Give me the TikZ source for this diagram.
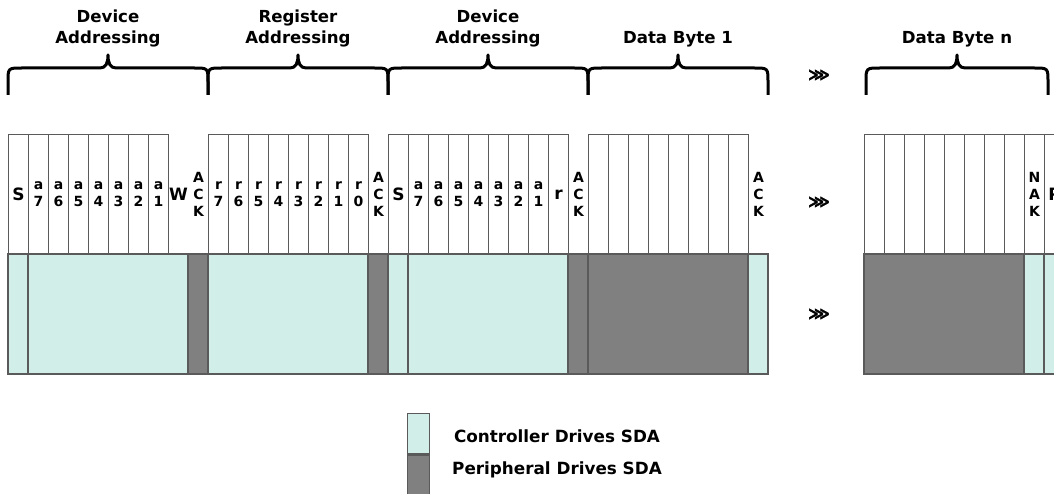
\documentclass[tikz,border=0pt]{standalone}
\usepackage{fontspec}
\setmainfont{DejaVu Sans}
\newfontfamily\chevfont[FakeBold=3]{DejaVu Sans Bold}
\usetikzlibrary{positioning}
\definecolor{ctrlteal}{RGB}{209,239,232}
\definecolor{periphgray}{RGB}{128,128,128}
\definecolor{cellline}{RGB}{90,90,90}
\tikzset{
  bit/.style={draw=cellline, line width=1pt, minimum width=20pt, minimum height=120pt,
    inner sep=0pt, anchor=north west, align=center, font=\bfseries\fontsize{14}{17}\selectfont},
  bitfree/.style={bit, draw=none},
  bigbit/.style={font=\bfseries\fontsize{17}{20}\selectfont},
  ctrl/.style={fill=ctrlteal, draw=cellline, line width=1.3pt},
  periph/.style={fill=periphgray, draw=cellline, line width=1.3pt},
  title/.style={anchor=south, inner sep=0pt, align=center, font=\bfseries\fontsize{16.6}{21}\selectfont},
  keytext/.style={font=\bfseries\fontsize{16.8}{20}\selectfont},
  more/.style={font=\chevfont\fontsize{15}{15}\selectfont},
}
\newcommand{\busbrace}[2]{%
  \draw[line width=3pt, line join=round] (#1,95) -- (#1,82) .. controls (#1,68) .. (#1+14,68)
    -- ({(#1+#2)/2-8},68) .. controls ({(#1+#2)/2-2},68) and ({(#1+#2)/2},63) .. ({(#1+#2)/2},55)
    .. controls ({(#1+#2)/2},63) and ({(#1+#2)/2+2},68) .. ({(#1+#2)/2+8},68)
    -- (#2-14,68) .. controls (#2,68) .. (#2,82) -- (#2,95);}
\begin{document}
\begin{tikzpicture}[x=1pt, y=-1pt]
  \useasboundingbox (0,0) rectangle (1054,494);
  % braces
  \busbrace{8}{208}
  \busbrace{208}{388}
  \busbrace{388}{588}
  \busbrace{588}{768}
  \busbrace{866}{1048}
  \node[title] (tdev) at (108,47) {Device\\Addressing};
  \node[title] (treg) at (298,47) {Register\\Addressing};
  \node[title] (tdev2) at (488,47) {Device\\Addressing};
  \node[title] (tdata) at (678,47) {Data Byte 1};
  \node[title] (tdatan) at (957,47) {Data Byte n};
  % device address, write
  \node[bit, bigbit] (ws) at (8,134) {S};
  \foreach \i [count=\k] in {7,6,...,1}
    \node[bit] (wa\i) at ({8+20*\k},134) {a\\\i};
  \node[bitfree, bigbit] (ww) at (168,134) {W};
  \node[bitfree] (wack) at (188,134) {A\\C\\K};
  % register address
  \foreach \i [count=\k] in {7,6,...,0}
    \node[bit] (rr\i) at ({188+20*\k},134) {r\\\i};
  \node[bitfree] (rack) at (368,134) {A\\C\\K};
  % device address, read
  \node[bit, bigbit] (ss) at (388,134) {S};
  \foreach \i [count=\k] in {7,6,...,1}
    \node[bit] (sa\i) at ({388+20*\k},134) {a\\\i};
  \node[bit, bigbit] (sr) at (548,134) {r};
  \node[bitfree] (sack) at (568,134) {A\\C\\K};
  % data byte 1
  \foreach \k in {0,...,7}
    \node[bit] (d\k) at ({588+20*\k},134) {};
  \node[bitfree] (dack) at (748,134) {A\\C\\K};
  % data byte n
  \foreach \k in {0,...,7}
    \node[bit] (n\k) at ({864+20*\k},134) {};
  \node[bit] (nnak) at (1024,134) {N\\A\\K};
  \node[bit, bigbit] (np) at (1044,134) {P};
  % who drives sda
  \foreach \xa/\xb in {8/28, 28/188, 208/368, 388/408, 408/568, 748/768, 1024/1044, 1044/1064}
    \draw[ctrl] (\xa,254) rectangle (\xb,374);
  \foreach \xa/\xb in {188/208, 368/388, 568/588, 588/748, 864/1024}
    \draw[periph] (\xa,254) rectangle (\xb,374);
  % skipped bytes
  \node[more] (skip1) at (819,75) {⋙};
  \node[more] (skip2) at (819,202) {⋙};
  \node[more] (skip3) at (819,314) {⋙};
  % key
  \node[ctrl, minimum width=22pt, minimum height=40pt, inner sep=0pt, anchor=north west] (keyctrl) at (407,413) {};
  \node[periph, minimum width=22pt, minimum height=40pt, inner sep=0pt, below=0pt of keyctrl] (keyperiph) {};
  \node[keytext] (keyctrltext) at (557,436) {Controller Drives SDA};
  \node[keytext] (keyperiphtext) at (557,470) {Peripheral Drives SDA};
\end{tikzpicture}
\end{document}
